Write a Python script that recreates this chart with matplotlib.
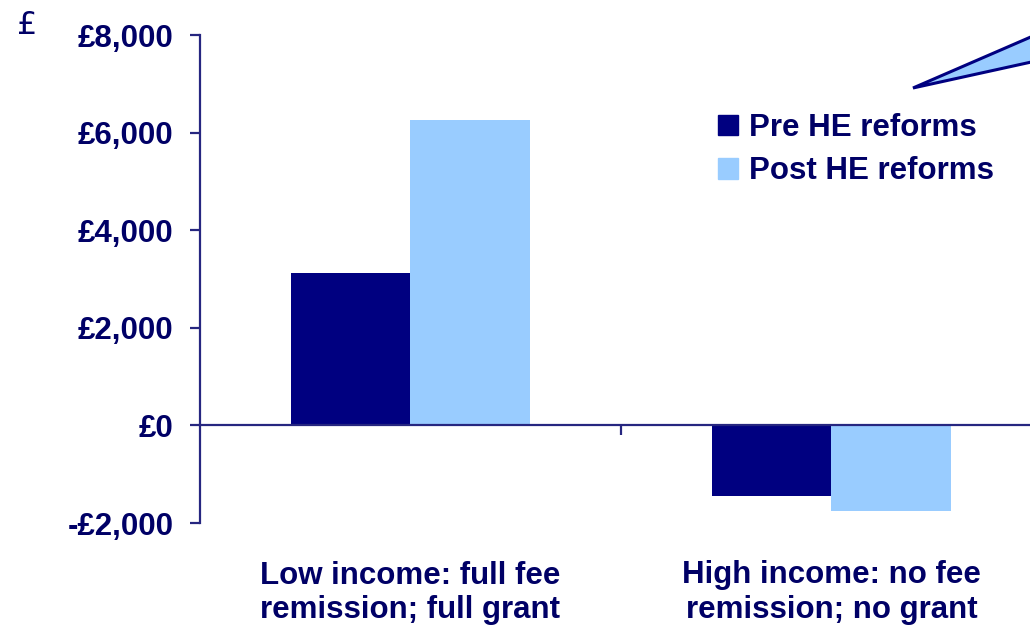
import matplotlib.pyplot as plt
from matplotlib.patches import Polygon, Patch

# data
categories = ['Low income: full fee\nremission; full grant',
              'High income: no fee\nremission; no grant']
series = ['Pre HE reforms', 'Post HE reforms']
pre_values = [3120, -1450]
post_values = [6250, -1750]
yticks = [-2000, 0, 2000, 4000, 6000, 8000]
ytick_labels = ['-£2,000', '£0', '£2,000', '£4,000', '£6,000', '£8,000']

navy = '#000080'
light = '#99CCFF'
text_col = '#000066'
axis_col = '#262680'

plt.rcParams['font.family'] = ['Liberation Sans', 'DejaVu Sans']

fig = plt.figure(figsize=(10.3, 6.26), dpi=100)
ax = fig.add_axes([200 / 1030, 103 / 626, 842 / 1030, 488 / 626])

w = 0.285
x = range(len(categories))
ax.bar([i - w / 2 for i in x], pre_values, w, color=navy, label=series[0])
ax.bar([i + w / 2 for i in x], post_values, w, color=light, label=series[1])

ax.set_xlim(-0.5, 1.5)
ax.set_ylim(-2000, 8000)
ax.set_yticks(yticks)
ax.set_yticklabels(ytick_labels, fontsize=22.5, fontweight='bold', color=text_col)
ax.tick_params(axis='y', length=7.2, width=1.6, color=axis_col, pad=12)

ax.spines['top'].set_visible(False)
ax.spines['right'].set_visible(False)
ax.spines['left'].set_color(axis_col)
ax.spines['left'].set_linewidth(1.6)
ax.spines['bottom'].set_position(('data', 0))
ax.spines['bottom'].set_color(axis_col)
ax.spines['bottom'].set_linewidth(1.6)
ax.set_xticks([0.5])
ax.set_xticklabels([''])
ax.tick_params(axis='x', length=7.2, width=1.6, color=axis_col, direction='out')

for i, cat in enumerate(categories):
    ax.annotate(cat, xy=(i, -2000), xytext=(0, -27), textcoords='offset points',
                ha='center', va='top', fontsize=22.5, fontweight='bold',
                color=text_col, linespacing=1.2)

fig.text(17 / 1030, 1 - 25 / 626, '£', fontsize=23, color=text_col,
         ha='left', va='center', family='DejaVu Sans')

handles = [Patch(color=navy), Patch(color=light)]
leg = fig.legend(handles, series, loc='upper left', bbox_to_anchor=(718 / 1030, 1 - 113 / 626),
                 frameon=False, handlelength=0.65, handleheight=0.65, handletextpad=0.35,
                 labelspacing=0.42, borderpad=0, borderaxespad=0,
                 prop={'size': 22.5, 'weight': 'bold'})
for t in leg.get_texts():
    t.set_color(text_col)

# callout pointer in the top right corner
callout = Polygon([[913 / 1030, 1 - 88 / 626], [1.05, 1 - 15 / 626], [1.05, 1 - 51 / 626]],
                  closed=True, facecolor=light, edgecolor=navy, linewidth=2.2,
                  transform=fig.transFigure, clip_on=False)
fig.patches.append(callout)

fig.savefig('out.png', dpi=100)
